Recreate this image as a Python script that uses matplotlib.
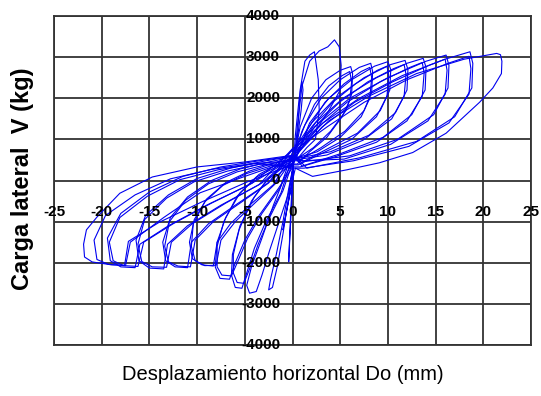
import numpy as np
import matplotlib
matplotlib.use("Agg")
import matplotlib.pyplot as plt

plt.rcParams["font.family"] = ["Liberation Sans", "DejaVu Sans"]

# ---- data ------------------------------------------------------------------
X_TICKS = [-25, -20, -15, -10, -5, 0, 5, 10, 15, 20, 25]
Y_TICKS = [-4000, -3000, -2000, -1000, 0, 1000, 2000, 3000, 4000]

# first pass of every amplitude: positive lobe, displacement (mm) / load (kg)
POS_X = [
    [0.0, 0.3, 0.7, 1.0, 1.1, 0.9, 0.5, 0.1],
    [0.2, 0.5, 0.8, 1.3, 1.8, 2.3, 2.7, 2.8, 2.4, 1.5, 0.6],
    [0.2, 0.5, 1.0, 1.8, 2.8, 3.7, 4.4, 4.9, 5.1, 5.0, 3.8, 2.4, 1.0, 0.2],
    [0.2, 0.8, 2.0, 3.5, 5.0, 6.1, 6.3, 6.2, 5.6, 4.0, 2.2, 0.6],
    [0.3, 1.3, 3.0, 5.0, 7.0, 8.2, 8.4, 8.3, 7.5, 5.5, 3.0, 0.8],
    [0.3, 1.8, 3.8, 6.2, 8.6, 10.0, 10.3, 10.2, 9.2, 6.8, 3.5, 0.8],
    [0.3, 2.0, 4.5, 7.5, 10.3, 11.8, 12.1, 12.0, 10.8, 8.0, 4.0, 1.0],
    [0.3, 2.4, 5.3, 8.8, 12.0, 13.7, 14.0, 13.9, 12.5, 9.5, 5.0, 1.0],
    [0.3, 2.8, 6.0, 10.0, 14.0, 16.1, 16.4, 16.3, 14.8, 11.0, 6.0, 1.2],
    [0.3, 3.2, 7.0, 11.5, 16.0, 18.6, 18.9, 18.8, 17.0, 13.0, 7.0, 1.5],
    [0.3, 3.8, 8.0, 13.0, 18.0, 21.4, 21.8, 21.95, 21.9, 21.0, 19.6, 16.1,
     12.6, 9.1, 5.7, 2.1, 0.3],
]
POS_F = [
    [0, 1100, 2000, 2400, 2200, 1700, 1000, 500],
    [500, 1000, 2200, 2900, 3050, 3130, 2450, 1700, 1000, 800, 550],
    [450, 1300, 2300, 2900, 3150, 3250, 3420, 3250, 2800, 2200, 1700, 1200,
     800, 550],
    [600, 1300, 2000, 2450, 2680, 2770, 2600, 2100, 1700, 1200, 800, 550],
    [750, 1350, 2000, 2450, 2750, 2850, 2650, 2150, 1700, 1200, 800, 500],
    [550, 1400, 2000, 2450, 2780, 2890, 2700, 2200, 1700, 1150, 750, 420],
    [800, 1400, 2000, 2500, 2820, 2920, 2700, 2200, 1650, 1100, 700, 560],
    [650, 1400, 2000, 2500, 2850, 2970, 2750, 2200, 1600, 1050, 650, 350],
    [850, 1400, 2000, 2500, 2900, 3050, 2800, 2250, 1600, 1000, 600, 460],
    [700, 1400, 2000, 2550, 2950, 3130, 2850, 2250, 1550, 950, 550, 300],
    [650, 1450, 2050, 2600, 2950, 3090, 3060, 2900, 2600, 2250, 1900, 1150,
     680, 430, 260, 100, 300],
]

# first pass: negative lobe
NEG_X = [
    [-0.2, -0.4, -0.3, -0.1, 0.1],
    [0.2, -0.4, -1.0, -1.7, -2.3, -2.5, -2.1, -1.6, -1.0, -0.4, 0.1],
    [0.2, -0.8, -2.0, -3.2, -4.3, -4.8, -4.5, -3.8, -3.2, -2.4, -1.4, -0.4, 0.1],
    [0.2, -1.0, -2.5, -4.0, -5.5, -6.3, -6.4, -6.0, -5.3, -4.8, -4.0, -2.8,
     -1.2, 0.0],
    [0.2, -1.5, -3.5, -5.5, -7.0, -7.9, -8.1, -7.6, -6.6, -6.0, -5.0, -3.5,
     -1.5, 0.1],
    [0.2, -2.0, -4.5, -7.0, -9.0, -10.3, -10.8, -10.5, -9.5, -8.3, -7.9, -6.5,
     -4.5, -2.0, 0.1],
    [0.2, -2.5, -5.5, -8.5, -11.0, -12.8, -13.6, -13.3, -12.3, -11.0, -10.6,
     -8.8, -6.0, -2.8, 0.1],
    [0.2, -3.0, -6.5, -10.0, -13.0, -15.4, -16.4, -16.1, -15.0, -13.5, -13.1,
     -11.0, -7.5, -3.5, 0.1],
    [0.2, -3.5, -7.5, -11.5, -15.0, -18.0, -19.4, -19.1, -18.0, -16.5, -16.0,
     -13.0, -9.0, -4.5, 0.1],
    [0.2, -5.0, -10.0, -14.7, -18.1, -20.5, -21.6, -21.9, -21.8, -21.0, -19.0,
     -17.5, -17.0, -13.5, -9.7, -5.0, 0.0],
    [0.0, -0.5, -1.0, 0.0],
]
NEG_F = [
    [-800, -1980, -1500, -600, 300],
    [500, -200, -1000, -1800, -2400, -2660, -2600, -2100, -1300, -400, 400],
    [500, 100, -600, -1400, -2100, -2550, -2740, -2700, -2300, -1700, -1000,
     -300, 400],
    [500, 350, 50, -400, -1100, -1800, -2300, -2600, -2620, -2250, -1650,
     -1000, -300, 600],
    [550, 400, 150, -300, -900, -1500, -2100, -2380, -2400, -2000, -1450, -850,
     -200, 350],
    [550, 420, 230, -50, -450, -950, -1500, -1900, -2050, -2080, -1500, -1050,
     -600, -100, 700],
    [580, 450, 280, 0, -400, -900, -1500, -1950, -2100, -2120, -1500, -1050,
     -600, -100, 450],
    [600, 470, 300, 50, -350, -850, -1450, -1950, -2130, -2150, -1550, -1100,
     -600, -100, 800],
    [600, 480, 330, 100, -280, -800, -1400, -1950, -2100, -2120, -1550, -1100,
     -600, -100, 550],
    [620, 450, 330, 85, -310, -890, -1200, -1550, -1860, -1980, -2050, -2070,
     -1500, -900, -300, 100, 500],
    [0, -600, -1200, 0],
]

# second pass at the same amplitudes (slightly weaker)
POS2_X = [
    [0.3, 1.0, 2.3, 3.8, 5.2, 6.0, 6.2, 6.0, 5.2, 3.6, 1.8, 0.5],
    [0.3, 1.6, 3.4, 5.4, 7.2, 8.1, 8.3, 8.1, 7.2, 5.0, 2.6, 0.6],
    [0.3, 2.0, 4.2, 6.6, 8.9, 9.9, 10.1, 9.9, 8.8, 6.2, 3.0, 0.6],
    [0.3, 2.3, 4.9, 7.9, 10.6, 11.7, 11.9, 11.7, 10.4, 7.4, 3.6, 0.8],
    [0.3, 2.7, 5.7, 9.2, 12.3, 13.6, 13.8, 13.6, 12.0, 8.8, 4.5, 0.8],
    [0.3, 3.1, 6.5, 10.5, 14.3, 16.0, 16.2, 16.0, 14.2, 10.3, 5.4, 1.0],
    [0.3, 3.6, 7.5, 12.0, 16.3, 18.5, 18.7, 18.5, 16.4, 12.2, 6.4, 1.2],
]
POS2_F = [
    [700, 1200, 1850, 2300, 2550, 2650, 2400, 1950, 1550, 1050, 700, 400],
    [500, 1250, 1900, 2350, 2650, 2750, 2500, 2000, 1550, 1050, 700, 560],
    [750, 1300, 1900, 2350, 2680, 2780, 2550, 2050, 1550, 1000, 650, 380],
    [550, 1300, 1900, 2400, 2720, 2820, 2580, 2050, 1500, 980, 620, 520],
    [800, 1300, 1900, 2400, 2750, 2870, 2620, 2050, 1450, 930, 580, 330],
    [600, 1300, 1900, 2400, 2800, 2950, 2680, 2100, 1450, 880, 520, 480],
    [750, 1300, 1900, 2450, 2850, 3020, 2720, 2100, 1400, 830, 480, 300],
]
NEG2_X = [
    [0.2, -1.2, -2.8, -4.3, -5.6, -6.2, -6.2, -5.8, -5.1, -4.5, -3.6, -2.4,
     -1.0, 0.1],
    [0.2, -1.7, -3.8, -5.8, -7.2, -7.9, -7.9, -7.4, -6.4, -5.7, -4.7, -3.2,
     -1.3, 0.1],
    [0.2, -2.2, -4.8, -7.3, -9.2, -10.4, -10.6, -10.2, -9.2, -8.0, -7.5, -6.0,
     -4.0, -1.8, 0.1],
    [0.2, -2.7, -5.8, -8.8, -11.2, -12.9, -13.4, -13.0, -12.0, -10.7, -10.2,
     -8.3, -5.5, -2.5, 0.1],
    [0.2, -3.2, -6.8, -10.3, -13.2, -15.5, -16.2, -15.8, -14.7, -13.2, -12.7,
     -10.5, -7.0, -3.2, 0.1],
    [0.2, -3.7, -7.8, -11.8, -15.2, -18.1, -19.2, -18.8, -17.7, -16.2, -15.6,
     -12.5, -8.5, -4.2, 0.1],
    [0.2, -4.0, -8.5, -12.8, -16.5, -19.6, -20.8, -20.5, -19.3, -17.6, -17.2,
     -14.0, -9.5, -4.8, 0.1],
]
NEG2_F = [
    [400, 280, -20, -500, -1200, -1800, -2250, -2480, -2500, -2150, -1550,
     -900, -250, 500],
    [560, 330, 80, -380, -1000, -1600, -2100, -2300, -2320, -1950, -1400,
     -800, -180, 750],
    [380, 360, 170, -120, -520, -1050, -1600, -1950, -2070, -2060, -1450,
     -1000, -560, -80, 550],
    [520, 390, 210, -80, -480, -1000, -1600, -1980, -2080, -2100, -1450,
     -1000, -550, -60, 800],
    [330, 410, 230, -30, -430, -950, -1550, -1970, -2100, -2110, -1500, -1050,
     -550, -60, 600],
    [480, 420, 260, 20, -380, -900, -1500, -1950, -2070, -2090, -1500, -1050,
     -550, -60, 750],
    [300, 420, 270, 40, -350, -850, -1450, -1920, -2040, -2060, -1480, -1020,
     -520, -40, 400],
]

BLUE = "#0000f0"
GRID = "#333333"

# ---- figure ------------------------------------------------------------------
fig = plt.figure(figsize=(5.41, 3.96), dpi=100)
ax = fig.add_axes([54 / 541, 51 / 396, 477 / 541, 329 / 396])
ax.set_xlim(-25, 25)
ax.set_ylim(-4000, 4000)

for px, pf, nx, nf in zip(POS_X, POS_F, NEG_X, NEG_F):
    ax.plot(np.r_[px, nx], np.r_[pf, nf], color=BLUE, lw=0.8, zorder=2)
for px, pf, nx, nf in zip(POS2_X, POS2_F, NEG2_X, NEG2_F):
    ax.plot(np.r_[px, nx], np.r_[pf, nf], color=BLUE, lw=0.8, zorder=2)

ax.set_xticks(X_TICKS)
ax.set_yticks(Y_TICKS)
ax.grid(True, color=GRID, lw=1.3, zorder=1)
ax.set_axisbelow(True)
ax.tick_params(length=0, labelbottom=False, labelleft=False)
for s in ax.spines.values():
    s.set_color(GRID)
    s.set_linewidth(1.3)

# tick labels sit next to the axes crossing at the origin
tick_font = dict(fontsize=11, fontweight="bold", zorder=4,
                 family=["Liberation Sans Narrow", "Liberation Sans"])
for xv in X_TICKS:
    ax.text(xv, -770, str(xv), ha="center", va="center", **tick_font)
for yv in Y_TICKS:
    ax.text(-1.3, yv, str(yv), ha="right", va="center", **tick_font)

fig.text(283 / 541, 1 - 374 / 396, "Desplazamiento horizontal Do (mm)",
         ha="center", va="center", fontsize=14.5)
fig.text(23 / 541, 1 - 179 / 396, "Carga lateral  V (kg)", rotation=90,
         ha="center", va="center", fontsize=17, fontweight="bold")

fig.savefig("out.png", dpi=100, facecolor="white")
